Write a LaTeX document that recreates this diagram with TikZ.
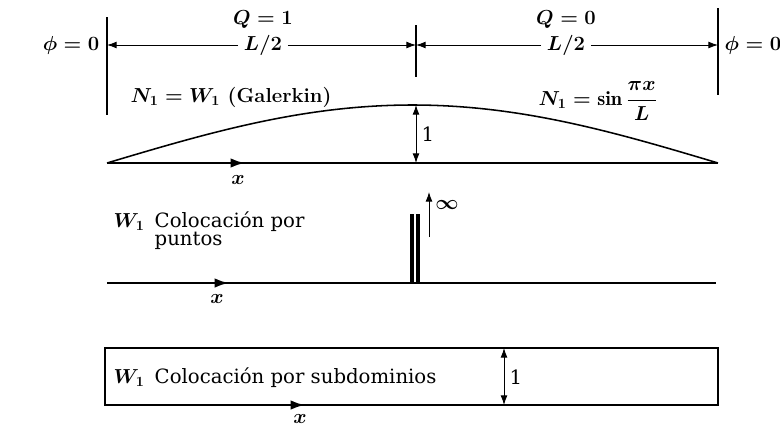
\documentclass[tikz,border=0pt]{standalone}
\usepackage{amsmath}
\usepackage{bm}
\usepackage{fontspec}
\newfontfamily\colfont{DejaVu Serif}
\usetikzlibrary{arrows.meta}
\tikzset{
  lbl/.style={font=\fontsize{14}{15}\colfont, inner sep=1pt},
  blbl/.style={font=\fontsize{14.4}{16}\selectfont\bfseries\boldmath, inner sep=1pt},
  edge/.style={line width=0.9pt},
  arch/.style={line width=1.1pt},
  dim/.style={-{Latex[length=2.4mm,width=1.7mm]}, line width=0.6pt},
  dimboth/.style={{Latex[length=2.4mm,width=1.7mm]}-{Latex[length=2.4mm,width=1.7mm]}, line width=0.6pt},
  xarrow/.style={-{Latex[length=3.6mm,width=2.4mm]}, line width=1.8pt},
  spike/.style={line width=2.2pt}
}

\begin{document}
\begin{tikzpicture}[x=0.025cm, y=-0.025cm]
  \useasboundingbox (0,0) rectangle (780,428);

  % cotas superiores
  \draw[edge] (107,17) -- (107,115);
  \draw[edge] (416,25) -- (416,77);
  \draw[edge] (718,8) -- (718,95);
  \coordinate (dl) at (107,45);
  \coordinate (dm) at (416,45);
  \coordinate (dr) at (718,45);
  \node[blbl, anchor=east] (phil) at (101,45) {$\phi = 0$};
  \node[blbl, anchor=west] (phir) at (723,45) {$\phi = 0$};
  \node[blbl] (q1) at (263,20) {$Q = 1$};
  \node[blbl] (q0) at (566,20) {$Q = 0$};
  \node[blbl, inner xsep=4pt] (hl) at (263,45) {$L/2$};
  \node[blbl, inner xsep=4pt] (hr) at (566,45) {$L/2$};
  \draw[dim] (hl) -- (dl);
  \draw[dim] (hl) -- (dm);
  \draw[dim] (hr) -- (dm);
  \draw[dim] (hr) -- (dr);

  % funcion de forma
  \node[blbl] (nl) at (231,97) {$N_1 = W_1$ (Galerkin)};
  \node[blbl, anchor=east] (nr) at (659,101) {$N_1 = \sin\dfrac{\pi x}{L}$};
  \draw[arch] plot[domain=107:718, samples=80, smooth] (\x,{163-58*sin(0.29460*(\x-107))});
  \draw[edge] (107,163) -- (718,163);
  \coordinate (o1) at (107,163);
  \coordinate (x1) at (245,163);
  \draw[xarrow] (o1) -- (x1);
  \node[blbl] (xl1) at (238,180) {$x$};
  \coordinate (pk) at (416,105);
  \coordinate (b1) at (416,163);
  \draw[dimboth] (pk) -- (b1);
  \node[lbl] (one1) at (428,134) {1};

  % colocacion por puntos
  \node[blbl, anchor=base west] (w2) at (112,227) {$W_1$};
  \node[lbl, anchor=base west] (c2a) at (153,227) {Colocación por};
  \node[lbl, anchor=base west] (c2b) at (153,245) {puntos};
  \draw[edge] (107,283) -- (716,283);
  \coordinate (o2) at (107,283);
  \coordinate (x2) at (229,283);
  \draw[xarrow] (o2) -- (x2);
  \node[blbl] (xl2) at (217,299) {$x$};
  \draw[spike] (412,214) -- (412,283);
  \draw[spike] (418,214) -- (418,283);
  \coordinate (ua) at (429,237);
  \coordinate (ub) at (429,192);
  \draw[dim] (ua) -- (ub);
  \node[blbl] (inf) at (447,205) {$\bm{\infty}$};

  % colocacion por subdominios
  \draw[edge] (105,348) rectangle (718,405);
  \node[blbl, anchor=base west] (w3) at (112,383) {$W_1$};
  \node[lbl, anchor=base west] (c3) at (153,383) {Colocación por subdominios};
  \coordinate (o3) at (105,405);
  \coordinate (x3) at (305,405);
  \draw[xarrow] (o3) -- (x3);
  \node[blbl] (xl3) at (300,419) {$x$};
  \coordinate (st) at (504,348);
  \coordinate (sb) at (504,405);
  \draw[dimboth] (st) -- (sb);
  \node[lbl] (one3) at (516,377) {1};
\end{tikzpicture}
\end{document}
